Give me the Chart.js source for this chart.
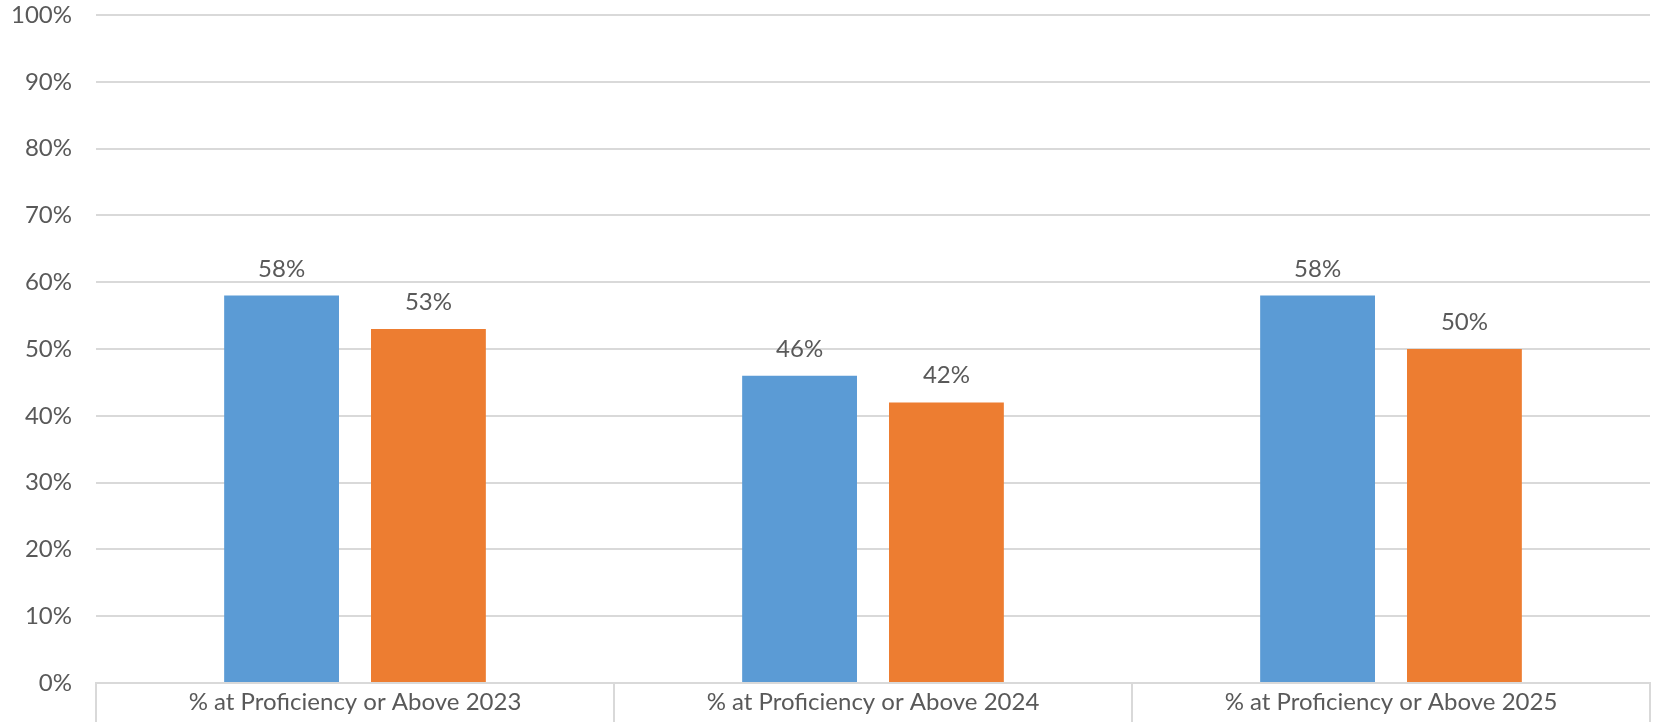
<!DOCTYPE html>
<html>
<head>
<meta charset="utf-8">
<script src="https://cdn.jsdelivr.net/npm/chart.js@4/dist/chart.umd.min.js"></script>
<style>
  html, body { margin: 0; padding: 0; background: #fff; }
  #wrap { width: 1657px; height: 722px; }
</style>
</head>
<body>
<div id="wrap"><canvas id="myChart" width="1657" height="722"></canvas></div>
<script>
var categories = ["% at Proficiency or Above 2023", "% at Proficiency or Above 2024", "% at Proficiency or Above 2025"];
var seriesA = [58, 46, 58];
var seriesB = [53, 42, 50];
var barColors = ["#5B9BD5", "#ED7D31"];

var textColor = "#595959";
var gridColor = "#D9D9D9";
var fontFamily = "Lato, 'Open Sans', sans-serif";

// draw value labels on top of each bar
const valueLabels = {
  id: "valueLabels",
  afterDatasetsDraw(chart) {
    const ctx = chart.ctx;
    ctx.save();
    ctx.font = "24px " + fontFamily;
    ctx.fillStyle = textColor;
    ctx.textAlign = "center";
    ctx.textBaseline = "alphabetic";
    chart.data.datasets.forEach((ds, i) => {
      chart.getDatasetMeta(i).data.forEach((bar, j) => {
        ctx.fillText(ds.data[j] + "%", bar.x, bar.y - 19);
      });
    });
    ctx.restore();
  }
};

new Chart("myChart", {
  type: "bar",
  data: {
    labels: categories,
    datasets: [
      { data: seriesA, backgroundColor: barColors[0], categoryPercentage: 0.567, barPercentage: 0.782 },
      { data: seriesB, backgroundColor: barColors[1], categoryPercentage: 0.567, barPercentage: 0.782 }
    ]
  },
  options: {
    responsive: false,
    animation: false,
    layout: { padding: { top: 15, right: 7, left: 0, bottom: 0 } },
    plugins: {
      legend: { display: false },
      tooltip: { enabled: false }
    },
    scales: {
      y: {
        min: 0,
        max: 100,
        afterFit: function (scale) {
          scale.width = 96;
          scale.paddingTop = 0;
          scale.paddingBottom = 0;
        },
        border: { display: false },
        grid: { color: gridColor, lineWidth: 2, drawTicks: false },
        ticks: {
          stepSize: 10,
          padding: 24,
          color: textColor,
          font: { size: 24, family: fontFamily },
          callback: function (v) { return v + "%"; }
        }
      },
      x: {
        afterFit: function (scale) { scale.height = 39; },
        border: { display: true, color: gridColor, width: 2 },
        grid: { offset: true, drawOnChartArea: false, color: gridColor, lineWidth: 2, tickLength: 45 },
        ticks: {
          padding: -40,
          color: textColor,
          font: { size: 24, family: fontFamily }
        }
      }
    }
  },
  plugins: [valueLabels]
});
</script>
</body>
</html>
